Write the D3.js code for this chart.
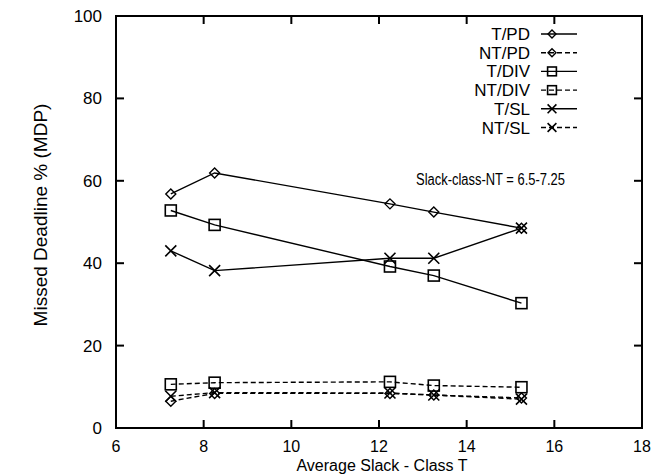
<!DOCTYPE html>
<html>
<meta charset="utf-8">
<style>
body { margin: 0; background: #fff; }
text { font-family: "Liberation Sans", Arial, sans-serif; fill: #000; }
</style>
<body>
<script src="https://d3js.org/d3.v7.min.js"></script>
<script>
var xVals = [7.25, 8.25, 12.25, 13.25, 15.25];
var tPD   = [56.8, 61.9, 54.4, 52.4, 48.5];
var ntPD  = [6.5, 8.4, 8.4, 8.0, 7.3];
var tDIV  = [52.8, 49.3, 39.2, 37.0, 30.3];
var ntDIV = [10.6, 11.0, 11.2, 10.3, 9.9];
var tSL   = [43.0, 38.2, 41.2, 41.2, 48.5];
var ntSL  = [7.7, 8.6, 8.5, 8.0, 7.0];
var xTicks = [6, 8, 10, 12, 14, 16, 18];
var yTicks = [0, 20, 40, 60, 80, 100];

var series = [
  {name: "T/PD", vals: tPD, mark: "diamond", dash: null},
  {name: "NT/PD", vals: ntPD, mark: "diamond", dash: "5,3"},
  {name: "T/DIV", vals: tDIV, mark: "square", dash: null},
  {name: "NT/DIV", vals: ntDIV, mark: "square", dash: "5,3"},
  {name: "T/SL", vals: tSL, mark: "cross", dash: null},
  {name: "NT/SL", vals: ntSL, mark: "cross", dash: "5,3"}
];

var margin = {top: 16, right: 10, bottom: 48, left: 116},
    width = 642 - margin.left,
    height = 428 - margin.top;

var x = d3.scaleLinear().domain([6, 18]).range([0, width]);
var y = d3.scaleLinear().domain([0, 100]).range([height, 0]);

var svg = d3.select("body").append("svg")
    .attr("width", 652)
    .attr("height", 476)
  .append("g")
    .attr("transform", "translate(" + margin.left + "," + margin.top + ")");

// frame
svg.append("rect")
    .attr("width", width).attr("height", height)
    .attr("fill", "none").attr("stroke", "#000").attr("stroke-width", 2);

// ticks (inward, mirrored on top and right)
var tl = 8;
xTicks.slice(1, -1).forEach(function(t) {
  svg.append("line").attr("x1", x(t)).attr("x2", x(t)).attr("y1", height).attr("y2", height - tl)
    .attr("stroke", "#000").attr("stroke-width", 2);
  svg.append("line").attr("x1", x(t)).attr("x2", x(t)).attr("y1", 0).attr("y2", tl)
    .attr("stroke", "#000").attr("stroke-width", 2);
});
yTicks.slice(1, -1).forEach(function(t) {
  svg.append("line").attr("x1", 0).attr("x2", tl).attr("y1", y(t)).attr("y2", y(t))
    .attr("stroke", "#000").attr("stroke-width", 2);
  svg.append("line").attr("x1", width).attr("x2", width - tl).attr("y1", y(t)).attr("y2", y(t))
    .attr("stroke", "#000").attr("stroke-width", 2);
});

// tick labels
svg.selectAll(".xl").data(xTicks).enter().append("text")
    .attr("x", function(d) { return x(d); })
    .attr("y", height + 24)
    .attr("text-anchor", "middle")
    .style("font-size", "16px")
    .text(function(d) { return d; });
svg.selectAll(".yl").data(yTicks).enter().append("text")
    .attr("x", -14)
    .attr("y", function(d) { return y(d) + 6; })
    .attr("text-anchor", "end")
    .style("font-size", "17px")
    .text(function(d) { return d; });

// axis titles
svg.append("text")
    .attr("x", 382 - margin.left).attr("y", 471 - margin.top)
    .attr("text-anchor", "middle")
    .style("font-size", "16px")
    .text("Average Slack - Class T");
svg.append("text")
    .attr("transform", "translate(" + (47 - margin.left) + "," + (215 - margin.top) + ") rotate(-90)")
    .attr("text-anchor", "middle")
    .style("font-size", "19px")
    .text("Missed Deadline % (MDP)");

function drawMark(g, type, cx, cy, k) {
  k = k || 1;
  if (type === "diamond") {
    var s = 5 * k;
    g.append("path")
      .attr("d", "M" + cx + "," + (cy - s) + "L" + (cx + s) + "," + cy + "L" + cx + "," + (cy + s) + "L" + (cx - s) + "," + cy + "Z")
      .attr("fill", "none").attr("stroke", "#000").attr("stroke-width", 1.4);
  } else if (type === "square") {
    var h = 5.5 * k;
    g.append("rect").attr("x", cx - h).attr("y", cy - h).attr("width", 2 * h).attr("height", 2 * h)
      .attr("fill", "none").attr("stroke", "#000").attr("stroke-width", 1.6);
  } else {
    var c = 5.5 * k;
    g.append("path")
      .attr("d", "M" + (cx - c) + "," + (cy - c) + "L" + (cx + c) + "," + (cy + c) + "M" + (cx - c) + "," + (cy + c) + "L" + (cx + c) + "," + (cy - c))
      .attr("fill", "none").attr("stroke", "#000").attr("stroke-width", 1.6);
  }
}

var line = d3.line()
    .x(function(d, i) { return x(xVals[i]); })
    .y(function(d) { return y(d); });

series.forEach(function(s) {
  var g = svg.append("g");
  g.append("path")
    .attr("d", line(s.vals))
    .attr("fill", "none").attr("stroke", "#000").attr("stroke-width", 1.4)
    .attr("stroke-dasharray", s.dash);
  s.vals.forEach(function(v, i) { drawMark(g, s.mark, x(xVals[i]), y(v)); });
});

// legend
var lx = 530 - margin.left, ly = 34 - margin.top;
series.forEach(function(s, i) {
  var g = svg.append("g");
  var yy = ly + i * 18.7;
  g.append("text")
    .attr("x", lx).attr("y", yy + 6)
    .attr("text-anchor", "end")
    .style("font-size", "17px")
    .text(s.name);
  g.append("line")
    .attr("x1", lx + 11).attr("x2", lx + 47).attr("y1", yy).attr("y2", yy)
    .attr("stroke", "#000").attr("stroke-width", 1.4)
    .attr("stroke-dasharray", s.dash);
  drawMark(g, s.mark, lx + 22, yy, 0.8);
});

svg.append("text")
    .attr("x", 416 - margin.left).attr("y", 185 - margin.top)
    .attr("textLength", 149)
    .attr("lengthAdjust", "spacingAndGlyphs")
    .style("font-size", "16px")
    .text("Slack-class-NT = 6.5-7.25");
</script>
</body>
</html>
